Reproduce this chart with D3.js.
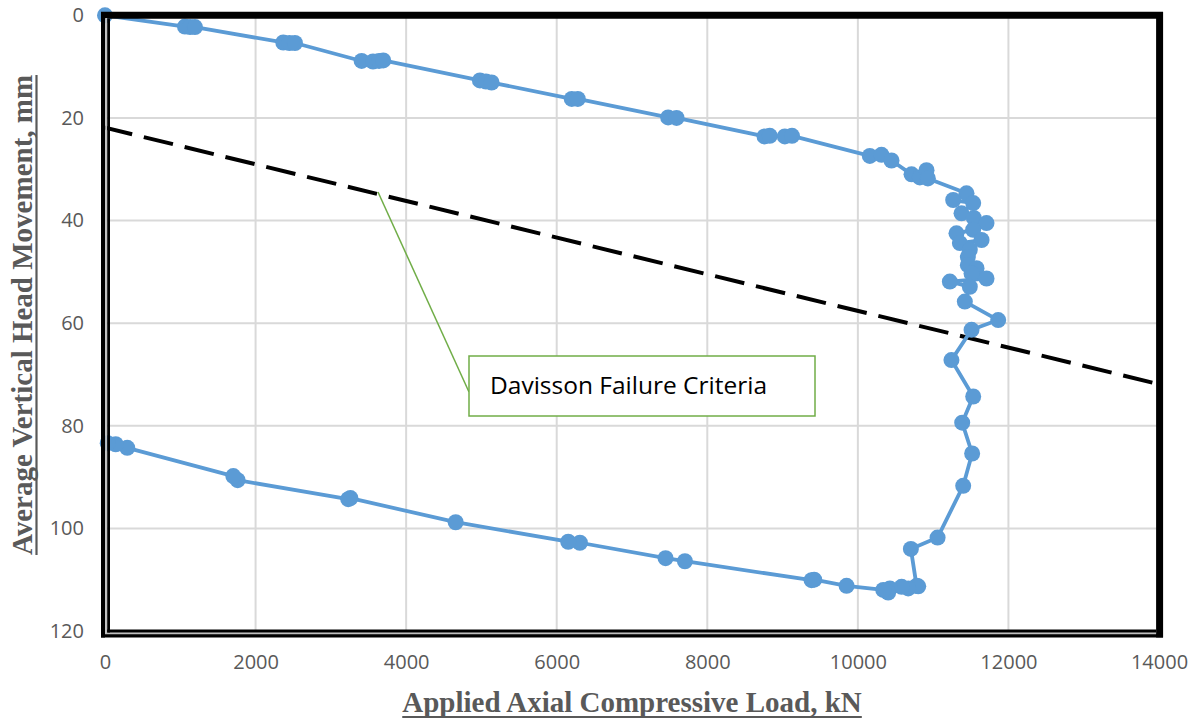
<!DOCTYPE html>
<html><head><meta charset="utf-8">
<script src="https://cdn.jsdelivr.net/npm/d3@7"></script>
<style>html,body{margin:0;padding:0;background:#fff;}svg{display:block;}</style>
</head><body>
<svg id="c" width="1200" height="726"></svg>
<script>
// ---- data ----
const xTicks = [0,2000,4000,6000,8000,10000,12000,14000];
const yTicks = [0,20,40,60,80,100,120];
const loadKN = [0,1062,1130,1195,2368,2450,2523,3409,3560,3640,3696,4980,5060,5135,6200,6280,7480,7592,8760,8830,9030,9125,
  10159,10314,10447,10713,10823,10912,10930,
  11443,11266,11532,11377,11540,11709,11532,11310,11355,11643,11487,11461,11461,11576,11510,11709,11222,11487,11421,11864,11510,
  11243,11532,11386,11518,11399,11059,10704,10780,10802,10669,10581,10425,10403,10337,9850,9420,9385,7703,7446,6308,6153,4658,3260,3231,1762,1704,296,142,36];
const movementMM = [0,2.2,2.3,2.3,5.3,5.4,5.4,8.9,9.0,8.9,8.8,12.7,12.9,13.1,16.3,16.3,19.9,20.0,23.6,23.5,23.6,23.5,
  27.4,27.2,28.3,31.0,31.6,30.2,31.8,
  34.7,36.0,36.6,38.6,39.5,40.5,41.8,42.5,44.4,43.8,45.7,47.1,48.7,49.3,50.3,51.3,51.9,52.9,55.8,59.4,61.3,
  67.2,74.3,79.4,85.4,91.7,101.8,104.0,111.2,111.3,111.7,111.4,111.7,112.5,112.0,111.2,110.0,110.1,106.4,105.8,102.8,102.6,98.8,94.1,94.3,90.6,89.8,84.3,83.6,83.4];
const davissonLoad = [0,14000];
const davissonMove = [21.8,71.9];
const xTitle = "Applied Axial Compressive Load, kN";
const yTitle = "Average Vertical Head Movement, mm";
const calloutText = "Davisson Failure Criteria";

// ---- drawing ----
const svg = d3.select("#c");
const x = d3.scaleLinear().domain([0,14000]).range([105,1159]);
const y = d3.scaleLinear().domain([0,120]).range([15.3,631]);
const grey = "#595959";

// gridlines
svg.append("g").selectAll("line").data(xTicks).join("line")
  .attr("x1",d=>x(d)).attr("x2",d=>x(d)).attr("y1",y(0)).attr("y2",y(120))
  .attr("stroke","#d9d9d9").attr("stroke-width",2);
svg.append("g").selectAll("line").data(yTicks).join("line")
  .attr("x1",x(0)).attr("x2",x(14000)).attr("y1",d=>y(d)).attr("y2",d=>y(d))
  .attr("stroke","#d9d9d9").attr("stroke-width",2);

// axes (labels only)
const xAxis = d3.axisBottom(x).tickValues(xTicks).tickSize(0).tickPadding(24).tickFormat(d3.format("d"));
const gx = svg.append("g").attr("transform",`translate(0,${y(120)})`).call(xAxis);
gx.select(".domain").remove();
gx.selectAll("text").attr("font-family","'Open Sans', sans-serif").attr("font-size",20).attr("fill",grey);
const yAxis = d3.axisLeft(y).tickValues(yTicks).tickSize(0).tickPadding(21).tickFormat(d3.format("d"));
const gy = svg.append("g").attr("transform",`translate(${x(0)},0)`).call(yAxis);
gy.select(".domain").remove();
gy.selectAll("text").attr("font-family","'Open Sans', sans-serif").attr("font-size",20).attr("fill",grey);

// Davisson line
svg.append("line")
  .attr("x1",x(davissonLoad[0])-2).attr("y1",y(davissonMove[0]))
  .attr("x2",x(davissonLoad[1])).attr("y2",y(davissonMove[1]))
  .attr("stroke","#000").attr("stroke-width",4).attr("stroke-dasharray","30,12");

// data line
const pts = loadKN.map((v,i)=>[v,movementMM[i]]);
svg.append("path").datum(pts)
  .attr("d",d3.line().x(d=>x(d[0])).y(d=>y(d[1])))
  .attr("fill","none").attr("stroke","#5B9BD5").attr("stroke-width",3.8).attr("stroke-linejoin","round");
svg.append("g").selectAll("circle").data(pts).join("circle")
  .attr("cx",d=>x(d[0])).attr("cy",d=>y(d[1])).attr("r",8).attr("fill","#5B9BD5");

// frame
const f = svg.append("g").attr("stroke","#000").attr("fill","none");
f.append("line").attr("x1",101).attr("x2",1163).attr("y1",15.3).attr("y2",15.3).attr("stroke-width",7);
f.append("line").attr("x1",1159.6).attr("x2",1159.6).attr("y1",12).attr("y2",637.5).attr("stroke-width",7);
f.append("line").attr("x1",103).attr("x2",103).attr("y1",12).attr("y2",637.5).attr("stroke-width",4);
f.append("line").attr("x1",101).attr("x2",1163).attr("y1",635.8).attr("y2",635.8).attr("stroke-width",3.5);
svg.append("line").attr("x1",106.2).attr("x2",106.2).attr("y1",18).attr("y2",634).attr("stroke","#bfbfbf").attr("stroke-width",2);
svg.append("line").attr("x1",105).attr("x2",1156).attr("y1",633.2).attr("y2",633.2).attr("stroke","#bfbfbf").attr("stroke-width",2);
svg.append("line").attr("x1",108.6).attr("x2",108.6).attr("y1",18.8).attr("y2",632.4).attr("stroke","#000").attr("stroke-width",2.8);
svg.append("line").attr("x1",107.2).attr("x2",1156).attr("y1",631).attr("y2",631).attr("stroke","#000").attr("stroke-width",2.8);

// callout
const cal = svg.append("g");
cal.append("line").attr("x1",378).attr("y1",192).attr("x2",469).attr("y2",392).attr("stroke","#70AD47").attr("stroke-width",1.5);
cal.append("rect").attr("x",469).attr("y",356).attr("width",346).attr("height",60)
  .attr("fill","#fff").attr("stroke","#70AD47").attr("stroke-width",1.5);
cal.append("text").attr("x",490).attr("y",394).text(calloutText)
  .attr("font-family","'Open Sans', sans-serif").attr("font-size",24.5).attr("fill","#000");

// axis titles
const xt = svg.append("text").attr("x",632).attr("y",712).attr("text-anchor","middle").text(xTitle)
  .attr("font-family","'Liberation Serif', 'Times New Roman', serif").attr("font-weight","bold").attr("font-size",29).attr("fill",grey);
const xb = xt.node().getBBox();
svg.append("line").attr("x1",xb.x).attr("x2",xb.x+xb.width).attr("y1",717).attr("y2",717).attr("stroke",grey).attr("stroke-width",2.2);
const yt = svg.append("text").attr("transform","translate(32,315) rotate(-90)").attr("text-anchor","middle").text(yTitle)
  .attr("font-family","'Liberation Serif', 'Times New Roman', serif").attr("font-weight","bold").attr("font-size",29).attr("fill",grey);
const yw = yt.node().getComputedTextLength();
svg.append("line").attr("x1",36.5).attr("x2",36.5).attr("y1",315-yw/2).attr("y2",315+yw/2).attr("stroke",grey).attr("stroke-width",2.2);
</script>
</body></html>
